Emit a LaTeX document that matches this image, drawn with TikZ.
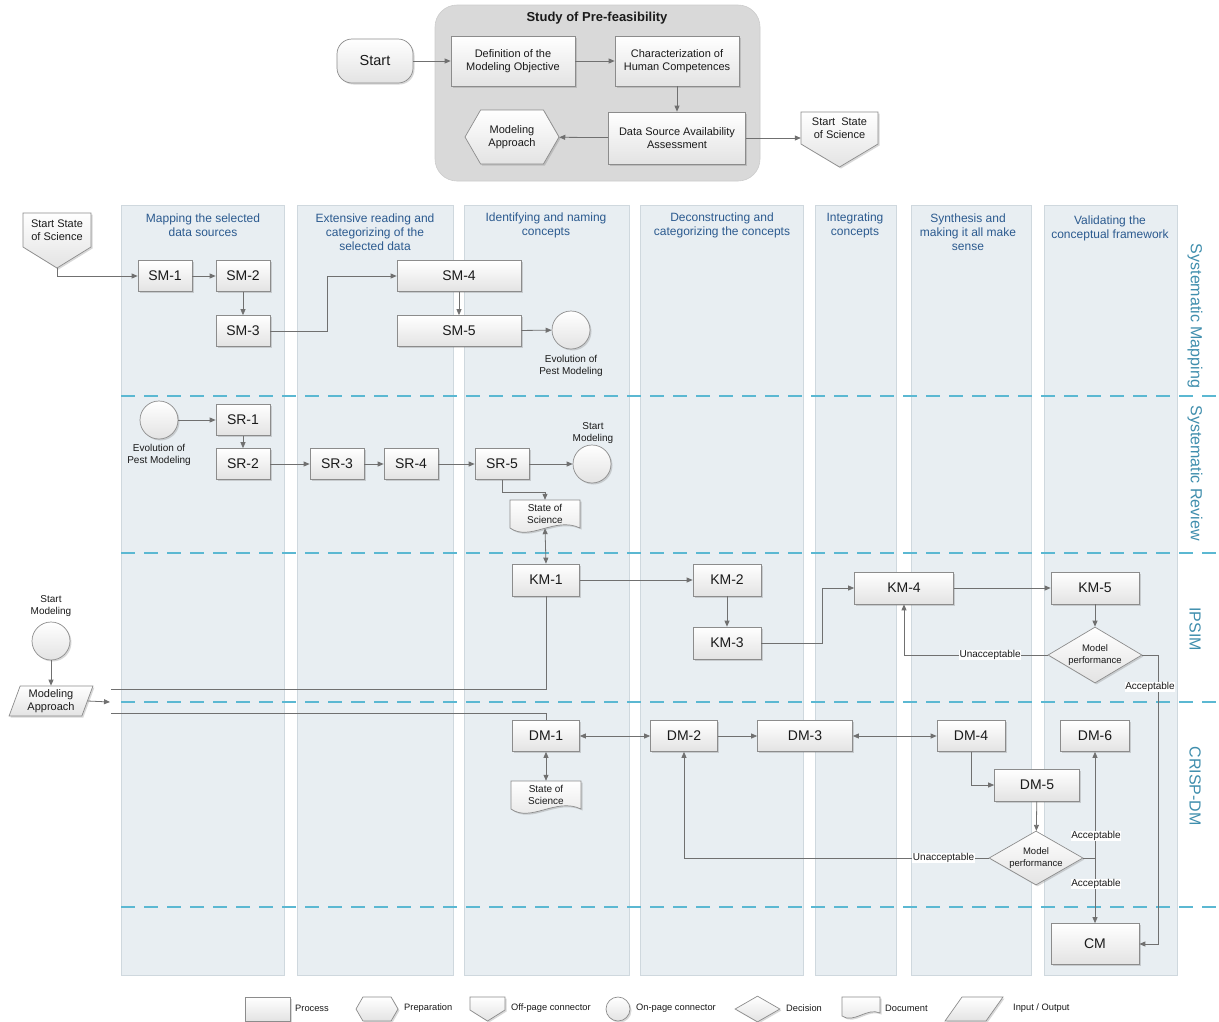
\documentclass[tikz,border=0pt]{standalone}
\usepackage{fontspec}
\setmainfont{Liberation Sans}
\usetikzlibrary{shapes.geometric,shapes.symbols,shadows,arrows.meta,calc}

\definecolor{lanefill}{HTML}{E8EEF2}
\definecolor{laneline}{HTML}{CFD8DE}
\definecolor{headtxt}{HTML}{2B5A8F}
\definecolor{dashblue}{HTML}{5BB8D2}
\definecolor{lanetxt}{HTML}{3F8EAD}
\definecolor{edgegray}{HTML}{707070}
\definecolor{boxline}{HTML}{8C8C8C}
\definecolor{boxbot}{HTML}{E3E3E3}
\definecolor{panelgray}{HTML}{D9D9D9}
\definecolor{paneledge}{HTML}{CCCCCC}
\definecolor{ink}{HTML}{1A1A1A}

\tikzset{
  boxshade/.style={draw=boxline, line width=0.7pt, top color=white, bottom color=boxbot,
    drop shadow={shadow xshift=1.5pt, shadow yshift=-1.5pt, opacity=0.25, fill=black!60}},
  proc/.style={boxshade, rectangle, inner sep=1pt, minimum height=31pt, text=ink,
    font=\fontsize{14}{16}\selectfont},
  pbox/.style={boxshade, rectangle, inner sep=1pt, align=center, text=ink,
    font=\fontsize{11}{13}\selectfont},
  oncon/.style={boxshade, circle, minimum size=38pt, inner sep=0pt},
  decide/.style={boxshade, diamond, aspect=1.6, minimum width=94pt, minimum height=56pt,
    inner sep=0pt, align=center, text=ink, font=\fontsize{9.5}{11.5}\selectfont},
  iobox/.style={boxshade, trapezium, trapezium left angle=70, trapezium right angle=110,
    trapezium stretches=true, inner sep=0pt, align=center, text=ink},
  hexbox/.style={boxshade, signal, signal to=east and west, signal pointer angle=120,
    inner sep=0pt, align=center, text=ink},
  plain/.style={inner sep=0pt, align=center, text=ink},
  flow/.style={draw=edgegray, line width=0.8pt, -{Triangle[length=6pt,width=5pt]}},
  both/.style={flow, {Triangle[length=6pt,width=5pt]}-{Triangle[length=6pt,width=5pt]}},
  link/.style={draw=edgegray, line width=0.8pt},
  small/.style={plain, font=\fontsize{10}{12.5}\selectfont},
  tag/.style={fill=white, inner sep=0.6pt, text=ink, font=\fontsize{10}{12}\selectfont},
  head/.style={text=headtxt, align=center, font=\fontsize{12}{14}\selectfont},
  lanename/.style={text=lanetxt, rotate=-90, font=\fontsize{16}{18}\selectfont},
  lane/.style={fill=lanefill, draw=laneline, line width=0.6pt},
  sep/.style={draw=dashblue, line width=2pt, dash pattern=on 14pt off 9pt},
  legtxt/.style={anchor=west, inner sep=0pt, text=ink, font=\fontsize{9.3}{11}\selectfont}
}

\begin{document}
\begin{tikzpicture}[x=1pt,y=-1pt]
\useasboundingbox (0,0) rectangle (1219,1021);
\fill[white] (0,0) rectangle (1219,1021);

% ---------- swimlane columns ----------
\foreach \a/\b in {121/284,297/453,464/629,640/803,815/896,911/1031,1044/1177}
  { \path[lane] (\a,205) rectangle (\b,975); }

% ---------- lane separators ----------
\foreach \y in {396,553,702,907}
  { \draw[sep] (121,\y) -- (1219,\y); }

% ---------- column headings ----------
\node[head] (hd1) at (203,225) {Mapping the selected\\data sources};
\node[head] (hd2) at (375,232) {Extensive reading and\\categorizing of the\\selected data};
\node[head] (hd3) at (546,225) {Identifying and naming\\concepts};
\node[head] (hd4) at (722,225) {Deconstructing and\\categorizing the concepts};
\node[head] (hd5) at (855,225) {Integrating\\concepts};
\node[head] (hd6) at (968,232) {Synthesis and\\making it all make\\sense};
\node[head] (hd7) at (1110,228) {Validating the\\conceptual framework};

% ---------- lane names ----------
\node[lanename] (ln1) at (1195,316) {Systematic Mapping};
\node[lanename] (ln2) at (1195,473) {Systematic Review};
\node[lanename] (ln3) at (1195,629) {IPSIM};
\node[lanename] (ln4) at (1195,786) {CRISP-DM};

% ---------- pre-feasibility study ----------
\path[fill=panelgray, draw=paneledge, line width=0.6pt, rounded corners=22pt] (435,5) rectangle (760,181);
\node[plain, font=\bfseries\fontsize{13}{15}\selectfont] (ptitle) at (597,18) {Study of Pre-feasibility};

\node[proc, rounded corners=15pt, minimum width=76pt, minimum height=44pt,
      font=\fontsize{14.5}{16}\selectfont] (start) at (375,61) {Start};
\node[pbox, minimum width=124pt, minimum height=50pt] (def) at (513,61) {Definition of the\\Modeling Objective};
\node[pbox, minimum width=124pt, minimum height=50pt] (char) at (677,61) {Characterization of\\Human Competences};
\node[pbox, minimum width=137pt, minimum height=52pt] (dsa) at (677,138) {Data Source Availability\\Assessment};
\node[hexbox, minimum width=94pt, minimum height=54pt, font=\fontsize{11}{13}\selectfont] (mapp) at (512,137) {Modeling\\Approach};

\begin{scope}[shift={(839.5,112)}]
  \path[boxshade] (-38.5,0) -- (38.5,0) -- (38.5,32) -- (0,55) -- (-38.5,32) -- cycle;
  \node[plain, minimum width=77pt, minimum height=32pt, font=\fontsize{11}{13}\selectfont] (ssosA) at (0,16) {Start\ \ State\\of Science};
\end{scope}

\draw[flow] (start) -- (def);
\draw[flow] (def) -- (char);
\draw[flow] (char) -- (dsa);
\draw[flow] (dsa) -- (mapp);
\draw[flow] (dsa.east) -- (dsa.east -| ssosA.west);

% ---------- Systematic Mapping ----------
\begin{scope}[shift={(57,213)}]
  \path[boxshade] (-34,0) -- (34,0) -- (34,34) -- (0,55) -- (-34,34) -- cycle;
  \node[plain, minimum width=68pt, minimum height=34pt, font=\fontsize{11}{13}\selectfont] (ssosB) at (0,17) {Start State\\of Science};
  \coordinate (ssosBtip) at (0,55);
\end{scope}

\node[proc, minimum width=54pt] (sm1) at (165,276) {SM-1};
\node[proc, minimum width=54pt] (sm2) at (243,276) {SM-2};
\node[proc, minimum width=54pt] (sm3) at (243,331) {SM-3};
\node[proc, minimum width=124pt] (sm4) at (459,276) {SM-4};
\node[proc, minimum width=124pt] (sm5) at (459,331) {SM-5};
\node[oncon] (evoA) at (571,330) {};
\node[small] (evoAlbl) at (571,366) {Evolution of\\Pest Modeling};

\draw[flow] (ssosBtip) |- (sm1);
\draw[flow] (sm1) -- (sm2);
\draw[flow] (sm2) -- (sm3);
\draw[flow] (sm3.east) -- ++(57,0) |- (sm4.west);
\draw[flow] (sm4) -- (sm5);
\draw[flow] (sm5) -- (evoA);

% ---------- Systematic Review ----------
\node[oncon] (evoB) at (159,420) {};
\node[small] (evoBlbl) at (159,455) {Evolution of\\Pest Modeling};
\node[proc, minimum width=54pt] (sr1) at (243,420) {SR-1};
\node[proc, minimum width=54pt] (sr2) at (243,464) {SR-2};
\node[proc, minimum width=54pt] (sr3) at (337,464) {SR-3};
\node[proc, minimum width=54pt] (sr4) at (411,464) {SR-4};
\node[proc, minimum width=54pt] (sr5) at (502,464) {SR-5};
\node[oncon] (smB) at (592,464) {};
\node[small] (smBlbl) at (593,433) {Start\\Modeling};

\begin{scope}[shift={(545,518)}]
  \path[boxshade] (-35,-18) -- (35,-18) -- (35,10) .. controls (10,-2) and (-15,24) .. (-35,10) -- cycle;
  \node[small, minimum width=70pt, minimum height=28pt] (docA) at (0,-4) {State of\\Science};
\end{scope}

\draw[flow] (evoB) -- (sr1);
\draw[flow] (sr1) -- (sr2);
\draw[flow] (sr2) -- (sr3);
\draw[flow] (sr3) -- (sr4);
\draw[flow] (sr4) -- (sr5);
\draw[flow] (sr5) -- (smB);
\draw[flow] (sr5.south) -- ++(0,13) -| (docA.north);

% ---------- IPSIM ----------
\node[oncon] (smC) at (51,641) {};
\node[small] (smClbl) at (51,606) {Start\\Modeling};
\node[iobox, minimum width=84pt, minimum height=30pt, font=\fontsize{11}{13}\selectfont] (mappB) at (51,701) {Modeling\\Approach};
\coordinate (maEnd) at (110,702);
\coordinate (feedK) at (111,689);
\coordinate (feedD) at (111,713);

\node[proc, minimum width=67pt, minimum height=32pt] (km1) at (546,580) {KM-1};
\node[proc, minimum width=68pt, minimum height=32pt] (km2) at (727,580) {KM-2};
\node[proc, minimum width=68pt, minimum height=32pt] (km3) at (727,643) {KM-3};
\node[proc, minimum width=99pt, minimum height=32pt] (km4) at (904,588) {KM-4};
\node[proc, minimum width=88pt, minimum height=32pt] (km5) at (1095,588) {KM-5};
\node[decide] (decA) at (1095,655) {Model\\performance};

\draw[both] (docA.south) -- (km1.north);
\draw[flow] (smC) -- (mappB);
\draw[flow] (mappB.east) -- (maEnd);
\draw[link] (feedK) -| (km1.south);
\draw[flow] (km1) -- (km2);
\draw[flow] (km2) -- (km3);
\draw[flow] (km3.east) -- ++(61,0) |- (km4.west);
\draw[flow] (km4) -- (km5);
\draw[flow] (km5) -- (decA);
\draw[flow] (decA.west) -| node[tag, pos=0.2] {Unacceptable} (km4.south);

% ---------- CRISP-DM ----------
\node[proc, minimum width=67pt] (dm1) at (546,736) {DM-1};
\node[proc, minimum width=67pt] (dm2) at (684,736) {DM-2};
\node[proc, minimum width=95pt] (dm3) at (805,736) {DM-3};
\node[proc, minimum width=68pt] (dm4) at (971,736) {DM-4};
\node[proc, minimum width=85pt, minimum height=32pt] (dm5) at (1037,785) {DM-5};
\node[proc, minimum width=69pt] (dm6) at (1095,736) {DM-6};
\node[decide, minimum height=54pt] (decB) at (1036,858) {Model\\performance};
\node[proc, minimum width=88pt, minimum height=41pt] (cm) at (1095,944) {CM};

\begin{scope}[shift={(546,799)}]
  \path[boxshade] (-35,-18) -- (35,-18) -- (35,10) .. controls (10,-2) and (-15,24) .. (-35,10) -- cycle;
  \node[small, minimum width=70pt, minimum height=28pt] (docB) at (0,-4) {State of\\Science};
\end{scope}

\draw[flow] (decA.east) -- ++(16,0) |- (cm.east);
\draw[link] (feedD) -| (dm1.north);
\draw[both] (dm1) -- (docB);
\draw[both] (dm1) -- (dm2);
\draw[flow] (dm2) -- (dm3);
\draw[both] (dm3) -- (dm4);
\draw[flow] (dm4.south) |- (dm5.west);
\draw[flow] (dm5) -- (decB);
\draw[flow] (decB.west) -| node[tag, pos=0.074] {Unacceptable} (dm2.south);
\coordinate (accSplit) at (decB.east -| dm6.south);
\draw[link] (decB.east) -- (accSplit);
\draw[flow] (accSplit) -- (dm6.south);
\draw[flow] (accSplit) -- (cm.north);

% connector labels drawn last so they sit over the lines
\node[tag] (accA) at (1150,687) {Acceptable};
\node[tag] (accB) at (1096,836) {Acceptable};
\node[tag] (accC) at (1096,884) {Acceptable};

% ---------- legend ----------
\node[boxshade, rectangle, minimum width=45pt, minimum height=24pt, inner sep=0pt] (lgProc) at (267.5,1009) {};
\node[legtxt] (lgProcT) at (295,1008) {Process};
\node[hexbox, minimum width=42pt, minimum height=24pt] (lgPrep) at (377,1009) {};
\node[legtxt] (lgPrepT) at (404,1008) {Preparation};
\begin{scope}[shift={(487.5,997)}]
  \path[boxshade] (-17.5,0) -- (17.5,0) -- (17.5,13) -- (0,24) -- (-17.5,13) -- cycle;
\end{scope}
\node[legtxt] (lgOffT) at (511,1008) {Off-page connector};
\node[boxshade, circle, minimum size=24pt, inner sep=0pt] (lgOn) at (618,1009) {};
\node[legtxt] (lgOnT) at (636,1008) {On-page connector};
\node[boxshade, diamond, minimum width=45pt, minimum height=26pt, inner sep=0pt] (lgDec) at (757.5,1009) {};
\node[legtxt] (lgDecT) at (786,1008) {Decision};
\begin{scope}[shift={(861,997)}]
  \path[boxshade] (-19,0) -- (19,0) -- (19,16) .. controls (6,10) and (-7,27) .. (-19,19) -- cycle;
\end{scope}
\node[legtxt] (lgDocT) at (885,1008) {Document};
\path[boxshade] (945,1021) -- (962,997) -- (1003,997) -- (986,1021) -- cycle;
\node[legtxt] (lgIOT) at (1013,1008) {Input / Output};

\end{tikzpicture}
\end{document}
